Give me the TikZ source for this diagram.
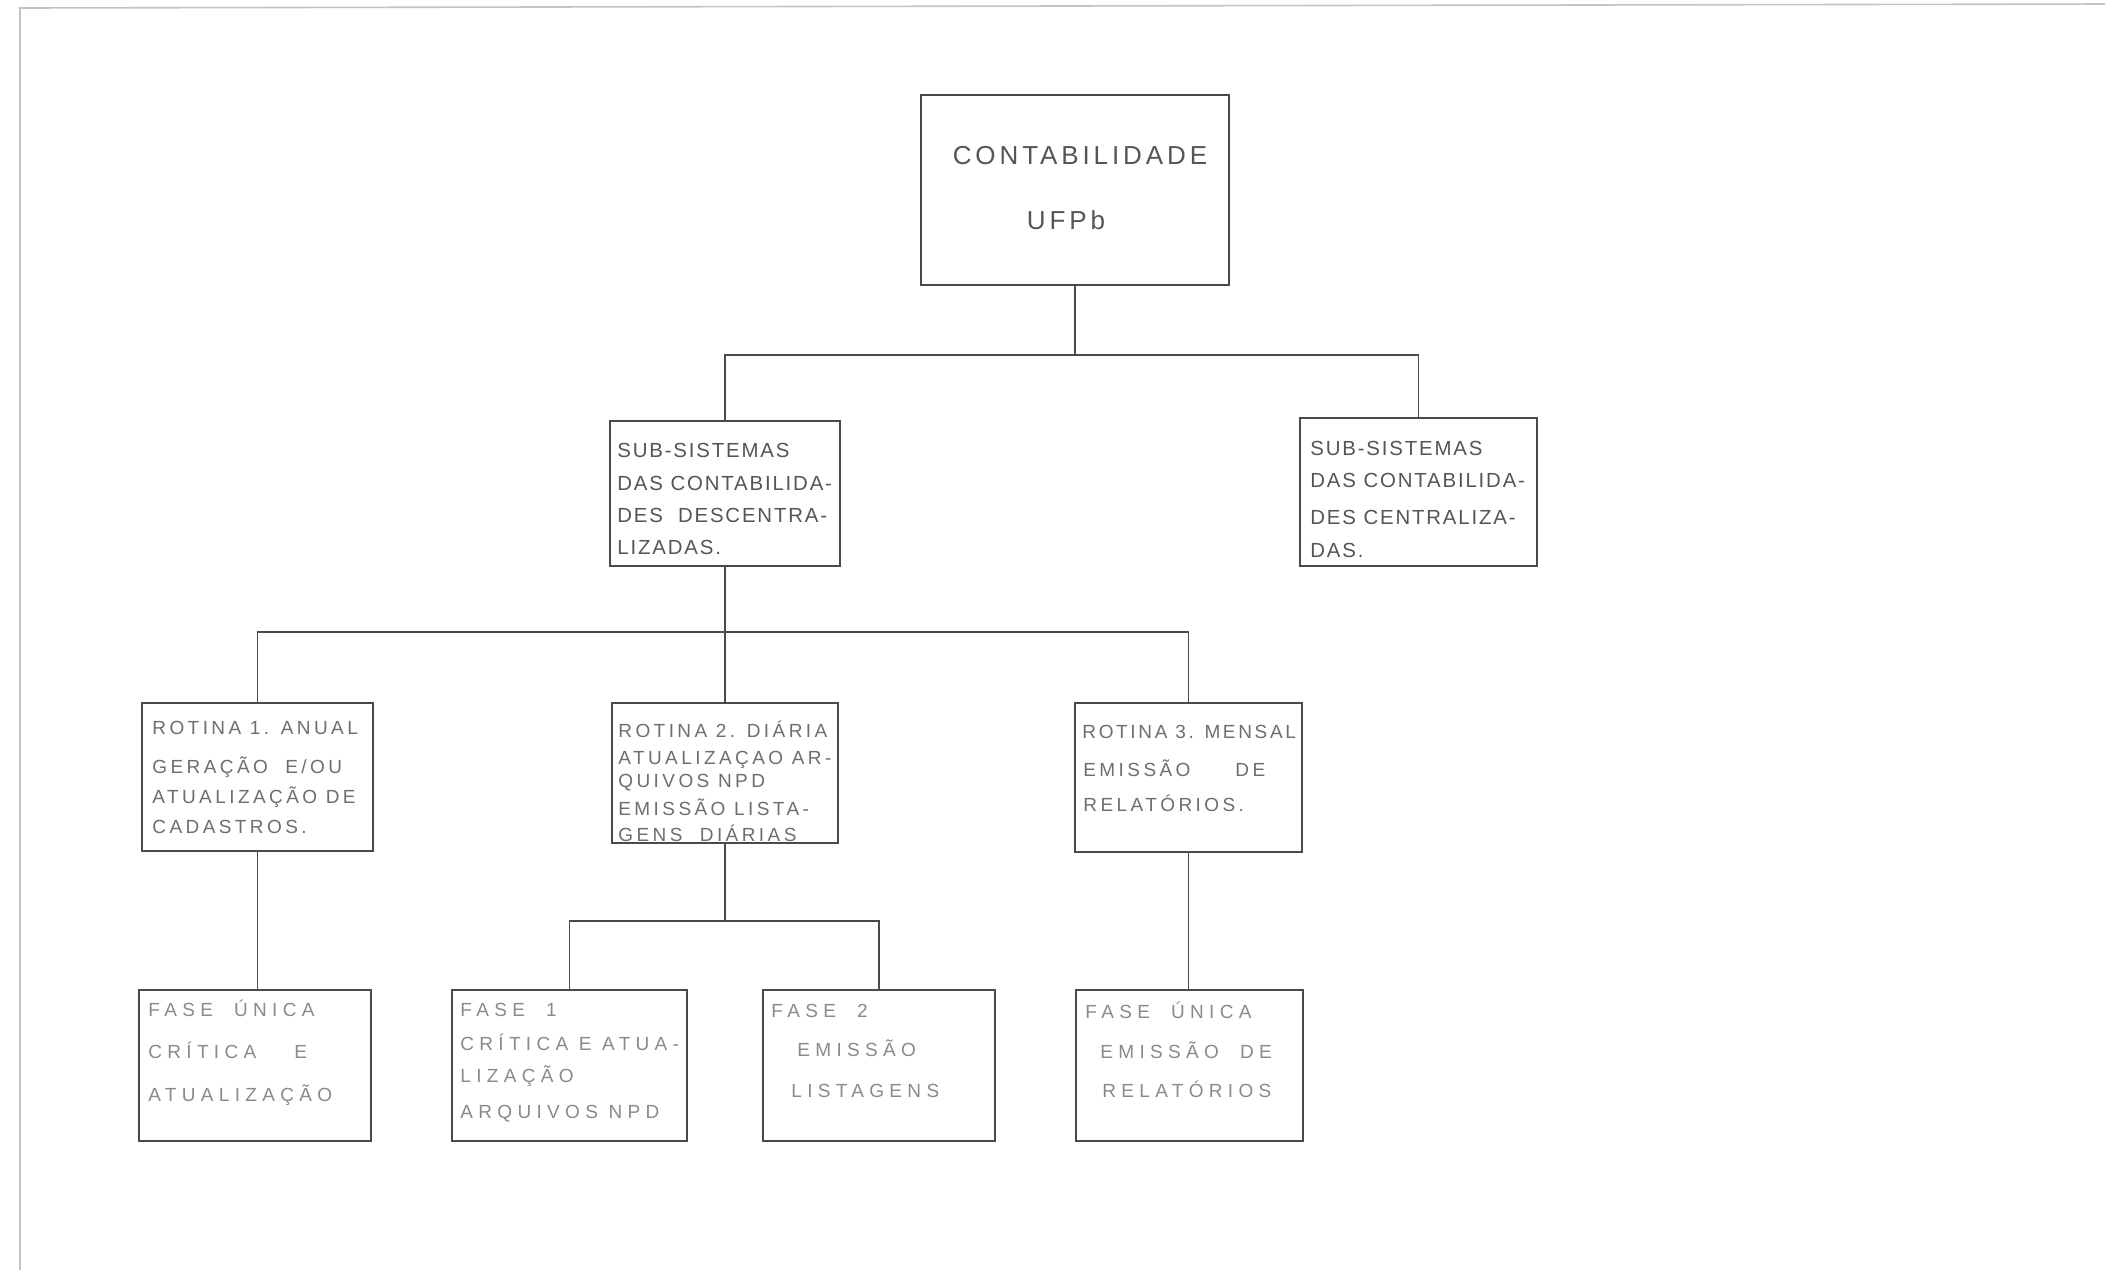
\documentclass[tikz,border=0pt]{standalone}
\usepackage{fontspec}
\setmainfont{Liberation Sans}
\newfontfamily\fa{Liberation Sans}[LetterSpace=15]
\newfontfamily\fs{Liberation Sans}[LetterSpace=9]
\newfontfamily\fb{Liberation Sans}[LetterSpace=18]
\newfontfamily\fbn{Liberation Sans}[LetterSpace=14]
\newfontfamily\fc{Liberation Sans}[LetterSpace=28]
\definecolor{ink}{HTML}{4A4A4A}
\definecolor{txtA}{HTML}{555555}
\definecolor{txtB}{HTML}{6E6E6E}
\definecolor{txtC}{HTML}{8A8A8A}
\definecolor{frame}{HTML}{C4C4C4}
\begin{document}
\begin{tikzpicture}[x=0.5pt,y=-0.5pt,
  box/.style={draw=ink,line width=0.9pt,rectangle,inner sep=0pt},
  link/.style={draw=ink,line width=0.9pt},
  ttop/.style={font=\fa\fontsize{13}{15}\selectfont,text=txtA,inner sep=0pt,anchor=base},
  tsub/.style={font=\fs\fontsize{10.2}{12}\selectfont,text=txtA,inner sep=0pt,anchor=base west},
  trot/.style={font=\fb\fontsize{9.5}{11}\selectfont,text=txtB,inner sep=0pt,anchor=base west},
  trotn/.style={font=\fbn\fontsize{9.5}{11}\selectfont,text=txtB,inner sep=0pt,anchor=base west},
  tfas/.style={font=\fc\fontsize{9.5}{11}\selectfont,text=txtC,inner sep=0pt,anchor=base west}]
\useasboundingbox (0,0) rectangle (2117,1287);
\fill[white] (0,0) rectangle (2117,1287);
% scan frame
\draw[frame,line width=0.8pt] (20,1270) -- (20,8) -- (2105,4);

% boxes
\node[box,minimum width=154pt,minimum height=95pt] (top) at (1075,190) {};
\node[box,minimum width=115pt,minimum height=72.5pt] (sub1) at (725,493.5) {};
\node[box,minimum width=118.5pt,minimum height=74pt] (sub2) at (1418.5,492) {};
\node[box,minimum width=115.5pt,minimum height=74pt] (r1) at (257.5,777) {};
\node[box,minimum width=113pt,minimum height=70pt] (r2) at (725,773) {};
\node[box,minimum width=113.5pt,minimum height=74.5pt] (r3) at (1188.5,777.5) {};
\node[box,minimum width=116pt,minimum height=75.5pt] (f0) at (255,1065.5) {};
\node[box,minimum width=117.5pt,minimum height=75.5pt] (f1) at (569.5,1065.5) {};
\node[box,minimum width=116pt,minimum height=75.5pt] (f2) at (879,1065.5) {};
\node[box,minimum width=113.5pt,minimum height=75.5pt] (f3) at (1189.5,1065.5) {};

% texts
\node[ttop] (topa) at (1080,164) {CONTABILIDADE};
\node[ttop] (topb) at (1066,229) {UFPb};

\node[tsub] (s1a) at (617,457) {SUB-SISTEMAS};
\node[tsub] (s1b) at (617,490) {DAS CONTABILIDA-};
\node[tsub] (s1c) at (617,522) {DES\ \ DESCENTRA-};
\node[tsub] (s1d) at (617,554) {LIZADAS.};

\node[tsub] (s2a) at (1310,455) {SUB-SISTEMAS};
\node[tsub] (s2b) at (1310,487) {DAS CONTABILIDA-};
\node[tsub] (s2c) at (1310,524) {DES CENTRALIZA-};
\node[tsub] (s2d) at (1310,557) {DAS.};

\node[trot] (r1a) at (152,734) {ROTINA 1. ANUAL};
\node[trot] (r1b) at (152,773) {GERAÇÃO\ \ E/OU};
\node[trot] (r1c) at (152,803) {ATUALIZAÇÃO DE};
\node[trot] (r1d) at (152,833) {CADASTROS.};

\node[trot] (r2a) at (618,737) {ROTINA 2. DIÁRIA};
\node[trot] (r2b) at (618,764) {ATUALIZAÇAO AR-};
\node[trot] (r2c) at (618,787) {QUIVOS NPD};
\node[trot] (r2d) at (618,815) {EMISSÃO LISTA-};
\node[trot] (r2e) at (618,841) {GENS\ \ DIÁRIAS};

\node[trotn] (r3a) at (1082,738) {ROTINA 3. MENSAL};
\node[trot] (r3b) at (1083,776) {EMISSÃO};
\node[trot] (r3c) at (1235,776) {DE};
\node[trot] (r3d) at (1083,811) {RELATÓRIOS.};

\node[tfas] (f0a) at (148,1016) {FASE\ \ ÚNICA};
\node[tfas] (f0b) at (148,1058) {CRÍTICA};
\node[tfas] (f0e) at (294,1058) {E};
\node[tfas] (f0d) at (148,1101) {ATUALIZAÇÃO};

\node[tfas] (f1a) at (460,1016) {FASE\ \ 1};
\node[tfas] (f1b) at (460,1050) {CRÍTICA E ATUA-};
\node[tfas] (f1c) at (460,1082) {LIZAÇÃO};
\node[tfas] (f1d) at (460,1118) {ARQUIVOS NPD};

\node[tfas] (f2a) at (771,1017) {FASE\ \ 2};
\node[tfas] (f2b) at (797,1056) {EMISSÃO};
\node[tfas] (f2c) at (791,1097) {LISTAGENS};

\node[tfas] (f3a) at (1085,1018) {FASE\ \ ÚNICA};
\node[tfas] (f3b) at (1100,1058) {EMISSÃO\ \ DE};
\node[tfas] (f3c) at (1102,1097) {RELATÓRIOS};

% junctions
\coordinate (j1) at (1075,355);
\coordinate (j2) at (725,632);
\coordinate (j3) at (725,921);

% connectors
\draw[link] (top.south) -- (j1);
\draw[link] (sub1.north) |- (j1) -| (sub2.north);
\draw[link] (sub1.south) -- (j2);
\draw[link] (r1.north) |- (j2) -| (r3.north);
\draw[link] (j2) -- (r2.north);
\draw[link] (r1.south) -- (r1.south |- f0.north);
\draw[link] (r2.south) -- (j3);
\draw[link] (f1.north) |- (j3) -| (f2.north);
\draw[link] (r3.south) -- (r3.south |- f3.north);
\end{tikzpicture}
\end{document}
